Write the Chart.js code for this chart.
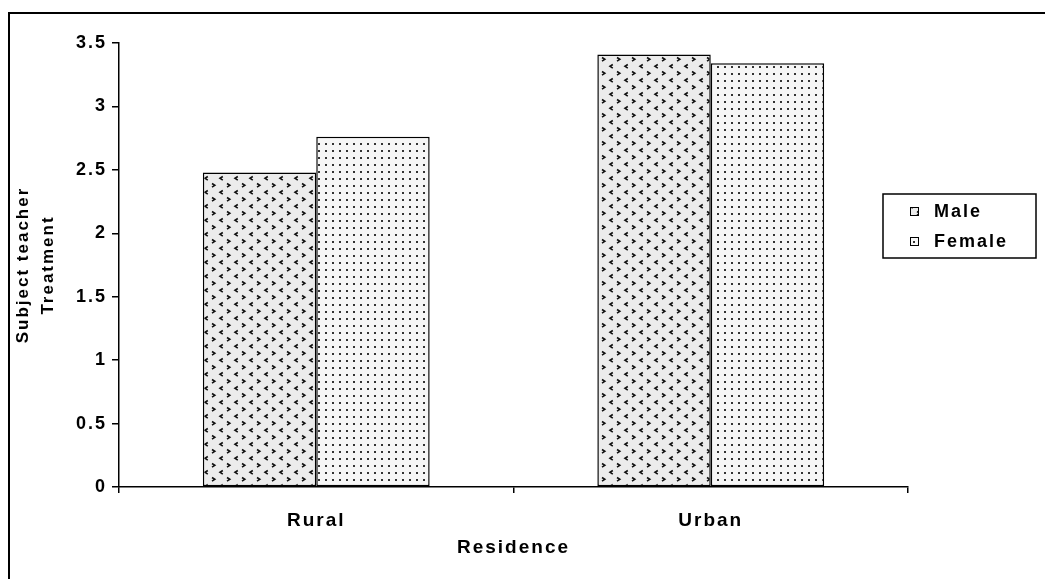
<!DOCTYPE html>
<html>
<head>
<meta charset="utf-8">
<script src="https://cdn.jsdelivr.net/npm/chart.js@4.4.0/dist/chart.umd.min.js"></script>
<style>
  html, body { margin: 0; padding: 0; background: #fff; overflow: hidden; }
  #frame { position: absolute; left: 8px; top: 12px; width: 1100px; height: 700px;
           border-left: 2px solid #000; border-top: 2px solid #000; }
  #wrap { position: absolute; left: 0; top: 0; width: 1045px; height: 579px; }
</style>
</head>
<body>
<div id="frame"></div>
<div id="wrap"><canvas id="chart" width="1045" height="579"></canvas></div>
<script>
const categories = ['Rural', 'Urban'];
const maleValues = [2.48, 3.41];
const femaleValues = [2.76, 3.34];
const yTicks = [0, 0.5, 1, 1.5, 2, 2.5, 3, 3.5];

const FONT = '"Liberation Sans", Arial, sans-serif';
const SPACING = '2px'; // the old Excel text is drawn wide

// chevron pattern for Male
function makeMalePattern() {
    const c = document.createElement('canvas');
    c.width = 15; c.height = 14;
    const g = c.getContext('2d');
    g.fillStyle = '#ececec';
    g.fillRect(0, 0, 15, 14);
    g.strokeStyle = '#111';
    g.lineWidth = 1.6;
    g.beginPath();
    // ">"
    g.moveTo(2, 1.5); g.lineTo(4.8, 3.3); g.lineTo(2, 5.1);
    // "<"
    g.moveTo(12.8, 8.5); g.lineTo(10, 10.3); g.lineTo(12.8, 12.1);
    g.stroke();
    return g.createPattern(c, 'repeat');
}

// dotted pattern for Female
function makeFemalePattern() {
    const c = document.createElement('canvas');
    c.width = 7; c.height = 7;
    const g = c.getContext('2d');
    g.fillStyle = '#f6f6f6';
    g.fillRect(0, 0, 7, 7);
    g.fillStyle = '#333';
    g.fillRect(3, 3, 2, 2);
    return g.createPattern(c, 'repeat');
}

const malePattern = makeMalePattern();
const femalePattern = makeFemalePattern();

// wide text everywhere on the canvas
const wideText = {
    id: 'wideText',
    beforeUpdate(chart) { chart.ctx.letterSpacing = SPACING; },
    beforeDraw(chart) { chart.ctx.letterSpacing = SPACING; }
};

// boxed legend to the right of the plot
const boxedLegend = {
    id: 'boxedLegend',
    afterDraw(chart) {
        const ctx = chart.ctx;
        const x = 883, y = 194, w = 153, h = 64;
        ctx.save();
        ctx.fillStyle = '#fff';
        ctx.fillRect(x, y, w, h);
        ctx.strokeStyle = '#000';
        ctx.lineWidth = 1.5;
        ctx.strokeRect(x, y, w, h);
        chart.data.datasets.forEach((ds, i) => {
            const cy = y + 17 + i * 30;
            ctx.fillStyle = ds.backgroundColor;
            ctx.fillRect(x + 27, cy - 4, 9, 9);
            ctx.strokeStyle = '#000';
            ctx.lineWidth = 1;
            ctx.strokeRect(x + 27.5, cy - 3.5, 8, 8);
            ctx.fillStyle = '#000';
            ctx.font = 'bold 18px ' + FONT;
            ctx.letterSpacing = SPACING;
            ctx.textBaseline = 'middle';
            ctx.textAlign = 'left';
            ctx.fillText(ds.label, x + 51, cy + 1);
        });
        ctx.restore();
    }
};

new Chart(document.getElementById('chart'), {
    type: 'bar',
    data: {
        labels: categories,
        datasets: [
            {
                label: 'Male',
                data: maleValues,
                backgroundColor: malePattern,
                borderColor: '#000',
                borderWidth: 1.5,
                borderSkipped: false
            },
            {
                label: 'Female',
                data: femaleValues,
                backgroundColor: femalePattern,
                borderColor: '#000',
                borderWidth: 1.5,
                borderSkipped: false
            }
        ]
    },
    plugins: [wideText, boxedLegend],
    options: {
        responsive: false,
        animation: false,
        devicePixelRatio: 1,
        layout: { padding: { top: 43, right: 137, left: 0, bottom: 0 } },
        datasets: { bar: { categoryPercentage: 0.575, barPercentage: 1 } },
        plugins: {
            legend: { display: false },
            tooltip: { enabled: false }
        },
        scales: {
            x: {
                afterFit: (s) => { s.height = 92; },
                grid: { drawOnChartArea: false, drawTicks: true, tickLength: 6, color: '#000', lineWidth: 1.5 },
                border: { color: '#000', width: 1.5 },
                ticks: { color: '#000', padding: 16, font: { family: FONT, size: 19, weight: 'bold' } },
                title: {
                    display: true, text: 'Residence', color: '#000',
                    padding: { top: 4, bottom: 20 },
                    font: { family: FONT, size: 19, weight: 'bold' }
                }
            },
            y: {
                min: 0, max: 3.5,
                afterFit: (s) => { s.width = 119; },
                afterBuildTicks: (s) => { s.ticks = yTicks.map(v => ({ value: v })); },
                grid: { drawOnChartArea: false, drawTicks: true, tickLength: 7, color: '#000', lineWidth: 1.5 },
                border: { color: '#000', width: 1.5 },
                ticks: {
                    color: '#000', padding: 5,
                    font: { family: FONT, size: 18, weight: 'bold' },
                    callback: (v) => String(v)
                },
                title: {
                    display: true, text: ['Subject teacher', 'Treatment'], color: '#000',
                    padding: { top: 11, bottom: 0 },
                    font: { family: FONT, size: 17, weight: 'bold', lineHeight: 1.45 }
                }
            }
        }
    }
});
</script>
</body>
</html>
